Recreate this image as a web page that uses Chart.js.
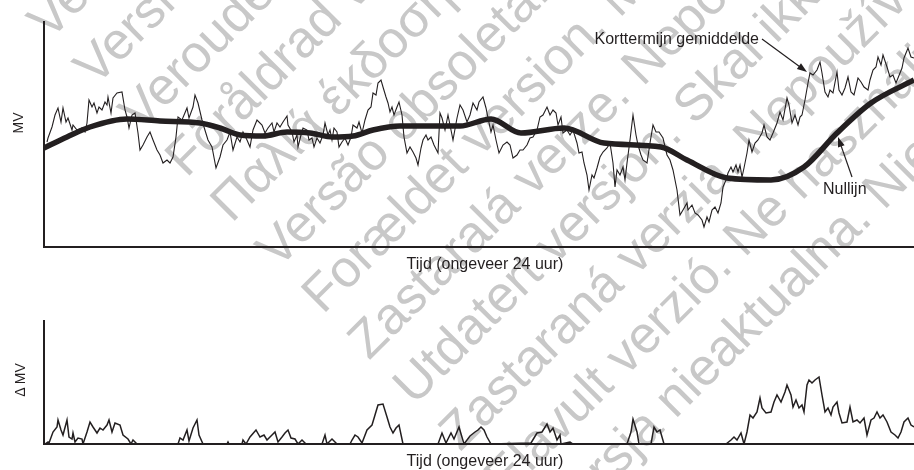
<!DOCTYPE html>
<html>
<head>
<meta charset="utf-8">
<script src="https://cdn.jsdelivr.net/npm/chart.js@4.4.1/dist/chart.umd.min.js"></script>
<style>
  html, body { margin: 0; padding: 0; background: #fff; }
  body { width: 914px; height: 470px; position: relative; overflow: hidden;
         font-family: "Liberation Sans", Arial, sans-serif; color: #231f20; }
  .wm { position: absolute; left: 14px; top: 6px; transform-origin: 0 0; transform: rotate(-45deg);
        font-size: 52px; line-height: 64.5px; color: #c8c8c8; white-space: nowrap; z-index: 0; }
  .box { position: absolute; left: 0; width: 914px; z-index: 1; }
  #top { top: 0; height: 260px; }
  #bottom { top: 300px; height: 160px; }
  .xlbl { position: absolute; font-size: 16px; line-height: 16px; white-space: nowrap;
          transform: translateX(-50%); z-index: 2; }
  .ylbl { position: absolute; font-size: 14px; line-height: 14px; white-space: nowrap;
          transform: translate(-50%, -50%) rotate(-90deg); z-index: 2; }
</style>
</head>
<body>
<div class="wm">
  <div>Veraltete Version. Nicht verwenden.</div>
  <div>Version obsolète. Ne pas utiliser.</div>
  <div>Verouderde versie. Niet gebruiken.</div>
  <div>Föråldrad version. Använd ej.</div>
  <div>Παλιά έκδοση. Να μη χρησιμοποιείται.</div>
  <div>Versão obsoleta. Não utilizar.</div>
  <div>Forældet version. Må ikke anvendes.</div>
  <div>Zastaralá verze. Nepoužívat.</div>
  <div>Utdatert versjon. Skal ikke brukes.</div>
  <div>Zastaraná verzia. Nepoužívať.</div>
  <div>Elavult verzió. Ne használja.</div>
  <div>Wersja nieaktualna. Nie stosować.</div>
</div>

<div class="box" id="top"><canvas id="mvChart"></canvas></div>
<div class="box" id="bottom"><canvas id="deltaChart"></canvas></div>

<div class="ylbl" style="left:18px; top:123px;">MV</div>
<div class="xlbl" style="left:485px; top:256px;">Tijd (ongeveer 24 uur)</div>
<div class="ylbl" style="left:20px; top:380px;">Δ MV</div>
<div class="xlbl" style="left:485px; top:453px;">Tijd (ongeveer 24 uur)</div>

<script>
// tijd in willekeurige stappen (0 - 870 = ongeveer 24 uur)
const tijd = [3, 4, 8, 11, 14, 17, 19, 22, 24, 28, 29, 33, 38, 41, 43, 45, 48, 50, 53, 55, 58, 61, 63, 64, 67, 69, 73, 78, 81, 83,
  85, 88, 91, 94, 96, 99, 103, 106, 109, 113, 116, 119, 123, 126, 129, 132, 134, 138, 143, 145, 149, 151, 154, 158, 160, 164, 168, 172, 176, 179,
  183, 186, 189, 193, 196, 199, 203, 206, 209, 213, 218, 221, 224, 228, 230, 233, 236, 239, 243, 244, 248, 250, 253, 254, 257, 259, 263, 265, 268, 270,
  273, 276, 279, 281, 284, 286, 288, 290, 293, 295, 298, 301, 304, 307, 309, 313, 315, 318, 321, 324, 327, 329, 332, 334, 337, 339, 342, 344, 346, 348,
  350, 353, 355, 358, 360, 363, 366, 369, 372, 374, 377, 379, 382, 384, 387, 390, 394, 396, 398, 401, 404, 406, 409, 413, 416, 419, 423, 426, 429, 433,
  435, 439, 442, 444, 447, 449, 452, 455, 459, 463, 466, 469, 473, 476, 479, 483, 486, 489, 493, 496, 499, 503, 506, 509, 512, 514, 517, 519, 523, 526,
  529, 533, 535, 538, 540, 543, 545, 548, 550, 553, 556, 559, 563, 566, 569, 571, 573, 576, 579, 581, 583, 586, 589, 592, 594, 597, 599, 603, 606, 609,
  612, 615, 619, 623, 626, 629, 633, 636, 639, 643, 644, 648, 651, 654, 658, 660, 663, 665, 668, 671, 674, 677, 679, 682, 684, 687, 689, 692, 694, 696,
  698, 700, 703, 705, 708, 711, 714, 718, 720, 723, 726, 729, 733, 736, 739, 743, 745, 748, 751, 754, 756, 758, 761, 764, 766, 769, 773, 776, 778, 781,
  784, 786, 789, 793, 795, 798, 801, 804, 807, 810, 814, 817, 820, 824, 826, 829, 832, 834, 837, 839, 843, 846, 849, 852, 854, 858, 860, 864, 867, 870];
// korttermijn gemiddelde MV
const mv = [105, 109, 120, 132, 139, 125, 139, 125, 129, 117, 122, 117, 119, 115, 124, 147, 140, 144, 134, 140, 137, 145, 142, 150, 134, 149, 154, 155, 137, 130,
  119, 132, 134, 114, 97, 102, 110, 115, 107, 97, 92, 84, 87, 84, 90, 110, 130, 127, 139, 129, 140, 152, 144, 127, 120, 107, 100, 79, 90, 102,
  107, 115, 97, 110, 105, 115, 107, 100, 117, 127, 122, 114, 119, 124, 115, 124, 120, 125, 131, 122, 115, 105, 112, 100, 112, 119, 117, 107, 109, 100,
  109, 104, 112, 124, 112, 117, 107, 119, 115, 100, 105, 109, 102, 110, 122, 119, 125, 114, 127, 137, 140, 154, 152, 164, 167, 160, 150, 144, 135, 140,
  132, 140, 145, 132, 110, 94, 100, 95, 89, 82, 99, 107, 112, 107, 110, 102, 94, 134, 129, 117, 132, 122, 107, 129, 142, 137, 125, 132, 144, 137,
  145, 150, 139, 129, 115, 122, 107, 94, 102, 105, 102, 89, 92, 97, 97, 102, 109, 110, 117, 130, 132, 140, 132, 137, 134, 122, 130, 114, 117, 112,
  117, 104, 94, 95, 84, 72, 57, 72, 69, 79, 90, 95, 99, 104, 84, 60, 77, 72, 80, 67, 84, 107, 132, 112, 102, 92, 87, 84, 104, 122,
  115, 115, 109, 92, 87, 77, 57, 32, 37, 44, 37, 42, 34, 32, 27, 20, 30, 25, 37, 40, 34, 44, 60, 67, 74, 80, 75, 82, 75, 82,
  70, 79, 94, 107, 95, 104, 107, 114, 122, 110, 107, 114, 124, 135, 127, 149, 142, 124, 132, 122, 130, 132, 147, 164, 174, 172, 177, 185, 174, 155,
  150, 157, 154, 175, 157, 152, 159, 170, 155, 152, 169, 165, 160, 157, 167, 177, 180, 190, 182, 192, 180, 170, 172, 164, 169, 179, 189, 199, 190, 189];
// nullijn
const tijdNul = [0, 23, 46, 83, 116, 156, 176, 196, 219, 243, 266, 289, 309, 329, 356, 416, 447, 477, 520, 560, 617, 643, 683, 727, 760, 793, 827, 870];
const nullijn = [99, 110, 120, 128, 126, 124, 119, 112, 111, 115, 114, 110, 111, 117, 121, 121, 128, 114, 119, 104, 100, 87, 69, 67, 80, 114, 144, 167];
// Δ MV
const tijdDelta = [1, 4, 5, 9, 13, 14, 17, 19, 23, 25, 28, 29, 31, 34, 38, 39, 43, 46, 49, 53, 56, 59, 63, 65, 68, 71, 76, 79, 84, 87,
  89, 93, 134, 136, 139, 143, 145, 149, 153, 155, 159, 183, 184, 185, 198, 199, 202, 206, 212, 216, 220, 223, 228, 231, 234, 238, 241, 244, 247, 251,
  254, 258, 262, 278, 281, 283, 288, 293, 306, 308, 311, 314, 318, 323, 328, 331, 334, 339, 343, 346, 349, 352, 355, 359, 394, 398, 402, 407, 410, 415,
  420, 426, 431, 434, 437, 440, 443, 447, 487, 490, 493, 498, 503, 506, 509, 513, 516, 517, 526, 529, 583, 587, 589, 593, 595, 607, 610, 613, 616, 618,
  620, 682, 687, 690, 693, 697, 700, 703, 706, 709, 713, 716, 718, 722, 727, 730, 733, 737, 741, 743, 747, 749, 752, 755, 758, 760, 763, 765, 768, 771,
  775, 778, 781, 784, 787, 789, 793, 795, 798, 803, 806, 809, 813, 816, 820, 823, 827, 830, 833, 836, 839, 843, 847, 851, 854, 857, 860, 864, 867, 870];
const deltaMv = [0, 2, 1, 12, 17, 24, 14, 9, 24, 7, 5, 11, 2, 6, 5, 0, 12, 22, 17, 11, 16, 14, 19, 24, 12, 21, 19, 9, 5, 0,
  4, 0, 0, 6, 4, 14, 3, 16, 24, 9, 0, 0, 2, 0, 0, 4, 0, 7, 14, 7, 9, 4, 9, 12, 2, 7, 11, 14, 6, 5,
  0, 4, 0, 0, 9, 0, 5, 0, 0, 4, 9, 7, 1, 14, 19, 29, 39, 40, 27, 17, 11, 16, 19, 0, 0, 11, 1, 11, 5, 17,
  0, 8, 12, 14, 17, 14, 7, 0, 1, 6, 11, 12, 20, 12, 16, 4, 9, 0, 2, 0, 0, 12, 25, 12, 0, 0, 17, 12, 14, 7,
  0, 0, 4, 7, 4, 11, 0, 12, 29, 26, 32, 46, 36, 31, 32, 42, 49, 42, 52, 59, 49, 37, 44, 36, 39, 32, 59, 64, 61, 64,
  67, 49, 32, 36, 29, 37, 42, 31, 21, 22, 37, 22, 24, 21, 26, 9, 24, 26, 32, 26, 29, 22, 12, 9, 6, 12, 22, 26, 19, 17];

const INK = '#231f20';
const pts = (xs, ys) => xs.map((x, i) => ({ x: x, y: ys[i] }));

const assen = (ymax) => ({
  x: {
    type: 'linear', min: 0, max: 870,
    ticks: { display: false }, grid: { display: false },
    border: { color: INK, width: 2 },
    afterFit: (s) => { s.height = 0 }
  },
  y: {
    min: 0, max: ymax,
    ticks: { display: false }, grid: { display: false },
    border: { color: INK, width: 2 },
    afterFit: (s) => { s.width = 0 }
  }
})

// tekst en pijlen in de bovenste grafiek
const notities = [
  { tekst: 'Korttermijn gemiddelde', tx: 715, ty: 203, align: 'right', van: [718, 208], naar: [763, 175] },
  { tekst: 'Nullijn', tx: 779, ty: 53, align: 'left', van: [808, 70], naar: [794, 110] }
]

const annotaties = {
  id: 'annotaties',
  afterDatasetsDraw(chart) {
    const { ctx, scales: { x, y } } = chart
    ctx.save()
    ctx.fillStyle = INK
    ctx.strokeStyle = INK
    ctx.lineWidth = 1.2
    ctx.font = '16px "Liberation Sans", Arial, sans-serif'
    ctx.textBaseline = 'alphabetic'
    notities.forEach(n => {
      ctx.textAlign = n.align
      ctx.fillText(n.tekst, x.getPixelForValue(n.tx), y.getPixelForValue(n.ty))
      const x1 = x.getPixelForValue(n.van[0]), y1 = y.getPixelForValue(n.van[1])
      const x2 = x.getPixelForValue(n.naar[0]), y2 = y.getPixelForValue(n.naar[1])
      const hoek = Math.atan2(y2 - y1, x2 - x1)
      ctx.beginPath()
      ctx.moveTo(x1, y1)
      ctx.lineTo(x2 - 6 * Math.cos(hoek), y2 - 6 * Math.sin(hoek))
      ctx.stroke()
      ctx.beginPath()
      ctx.moveTo(x2, y2)
      ctx.lineTo(x2 - 10 * Math.cos(hoek) + 3.5 * Math.sin(hoek), y2 - 10 * Math.sin(hoek) - 3.5 * Math.cos(hoek))
      ctx.lineTo(x2 - 10 * Math.cos(hoek) - 3.5 * Math.sin(hoek), y2 - 10 * Math.sin(hoek) + 3.5 * Math.cos(hoek))
      ctx.closePath()
      ctx.fill()
    })
    ctx.restore()
  }
}

new Chart(document.getElementById('mvChart'), {
  type: 'line',
  data: {
    datasets: [{
      label: 'Nullijn',
      data: pts(tijdNul, nullijn),
      borderColor: INK,
      borderWidth: 5.5,
      pointRadius: 0,
      cubicInterpolationMode: 'monotone'
    }, {
      label: 'Korttermijn gemiddelde',
      data: pts(tijd, mv),
      borderColor: INK,
      borderWidth: 1.1,
      pointRadius: 0,
      tension: 0
    }]
  },
  options: {
    responsive: true,
    maintainAspectRatio: false,
    animation: false,
    layout: { padding: { left: 44, top: 22, right: 0, bottom: 13 } },
    plugins: { legend: { display: false }, tooltip: { enabled: false } },
    scales: assen(225)
  },
  plugins: [annotaties]
})

new Chart(document.getElementById('deltaChart'), {
  type: 'line',
  data: {
    datasets: [{
      label: 'Δ MV',
      data: pts(tijdDelta, deltaMv),
      borderColor: INK,
      borderWidth: 1.5,
      pointRadius: 0,
      tension: 0
    }]
  },
  options: {
    responsive: true,
    maintainAspectRatio: false,
    animation: false,
    layout: { padding: { left: 44, top: 21, right: 0, bottom: 16 } },
    plugins: { legend: { display: false }, tooltip: { enabled: false } },
    scales: assen(123)
  }
})
</script>
</body>
</html>
